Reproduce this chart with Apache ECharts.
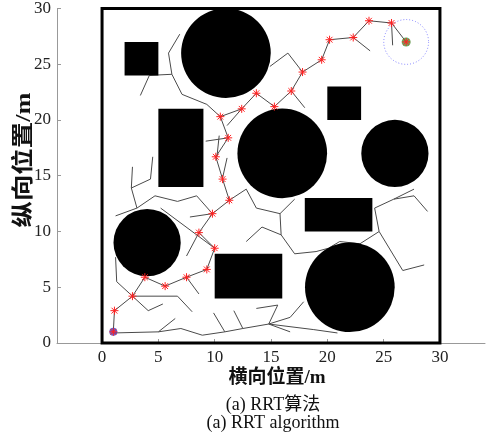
<!DOCTYPE html>
<html><head><meta charset="utf-8">
<script src="https://cdn.jsdelivr.net/npm/echarts@6/dist/echarts.min.js"></script>
<style>html,body{margin:0;padding:0;background:#fff}#c{width:494px;height:434px}</style>
</head><body><div id="c"></div>
<script>
const xTicks = [0, 5, 10, 15, 20, 25, 30];
const yTicks = [0, 5, 10, 15, 20, 25, 30];
const circles = [[11, 26, 4], [16, 17, 4], [26, 17, 3], [4, 9, 3], [22, 5, 4]];
const rects = [[2, 24, 5, 27], [5, 14, 9, 21], [20, 20, 23, 23], [18, 10, 24, 13], [10, 4, 16, 8]];
const boundary = [[0, 0, 30, 30]];
const startPoint = [1, 1];
const goalPoint = [27, 27];
const goalRadius = 2;
const pathPoints = [[1,1],[1.1,2.9],[2.7,4.2],[3.8,5.9],[5.6,5.1],[7.5,5.9],[9.3,6.6],[10,8.5],[8.6,9.9],[9.8,11.6],[11.3,12.8],[10.7,14.7],[10.1,16.7],[11.2,18.4],[10.5,20.3],[12.4,21],[13.7,22.4],[15.3,21.2],[16.8,22.6],[17.8,24.3],[19.5,25.4],[20.2,27.2],[22.3,27.4],[23.7,28.9],[25.7,28.7],[27,27]];
const treeEdges = [
  [[6.9,27.7],[5.9,26.0],[6.2,24.1],[7.1,22.3],[9.3,21.4],[10.5,20.3]],
  [[6.2,24.1],[4.2,24.0],[3.4,22.2]],
  [[9.2,18.1],[11.2,18.4]],
  [[10.4,18.6],[10.2,16.7]],
  [[11.1,16.6],[10.7,14.8]],
  [[12.4,21.0],[11.1,19.5]],
  [[17.8,24.3],[16.5,26.0],[14.9,24.8]],
  [[16.8,22.6],[18.0,21.1]],
  [[22.3,27.4],[23.8,26.2]],
  [[25.7,28.7],[25.8,26.7]],
  [[2.7,15.8],[2.6,13.9],[3.1,12.1],[1.2,11.4]],
  [[4.5,16.7],[4.3,14.7],[2.6,13.9]],
  [[3.1,12.1],[4.7,13.2],[6.7,12.7],[8.4,13.2],[9.8,11.6]],
  [[5.2,12.1],[10.0,8.5]],
  [[7.5,7.8],[8.6,9.9]],
  [[7.8,11.3],[9.8,11.6]],
  [[1.2,7.7],[1.3,5.5],[2.7,4.2]],
  [[2.7,4.2],[6.7,4.2],[8.0,2.8]],
  [[2.7,4.2],[4.1,2.9],[5.4,3.5]],
  [[7.5,5.9],[8.6,4.4]],
  [[1.0,0.9],[5.0,1.0],[7.0,1.3],[8.9,0.7],[10.9,1.0],[12.5,1.3],[14.8,1.7],[18.8,1.2],[20.9,0.9]],
  [[5.0,1.0],[6.5,2.2]],
  [[9.9,2.7],[10.9,1.0]],
  [[11.7,2.9],[12.5,1.3]],
  [[13.7,3.1],[15.6,3.4],[14.8,1.7]],
  [[14.8,1.7],[16.7,2.3],[17.9,3.7]],
  [[14.8,1.7],[16.7,1.0]],
  [[11.3,12.8],[12.8,13.8],[13.7,12.1],[15.8,11.6],[17.1,12.9]],
  [[15.8,11.6],[15.9,9.7],[17.1,8.0],[19.0,8.2],[20.1,8.5],[21.1,9.1],[22.9,8.9],[24.6,10.0]],
  [[15.9,9.7],[14.2,10.4],[12.8,9.1]],
  [[24.6,10.0],[24.2,12.1],[25.9,12.9],[27.7,13.8]],
  [[25.9,12.9],[27.7,13.2],[28.9,11.8]],
  [[24.6,10.0],[26.7,6.5],[28.6,7.0]]
];

const chart = echarts.init(document.getElementById('c'), null, {renderer: 'canvas'});
const serif = '"Liberation Serif","Noto Sans CJK SC"';
const series = [];
treeEdges.forEach(function (poly) {
  series.push({type: 'line', data: poly, symbol: 'none', silent: true, z: 1,
    lineStyle: {color: '#4a4a4a', width: 1}, animation: false});
});
series.push({type: 'line', data: pathPoints, symbol: 'none', silent: true, z: 2,
  lineStyle: {color: '#4a4a4a', width: 1}, animation: false});
series.push({type: 'custom', data: circles, z: 3, silent: true, animation: false,
  renderItem: function (params, api) {
    const c = api.coord([api.value(0), api.value(1)]);
    const s = api.size([api.value(2), api.value(2)]);
    return {type: 'circle', shape: {cx: c[0], cy: c[1], r: (s[0] + s[1]) / 2}, style: {fill: '#000'}};
  }});
series.push({type: 'custom', data: rects, z: 3, silent: true, animation: false,
  renderItem: function (params, api) {
    const p1 = api.coord([api.value(0), api.value(3)]);
    const p2 = api.coord([api.value(2), api.value(1)]);
    return {type: 'rect', shape: {x: p1[0], y: p1[1], width: p2[0] - p1[0], height: p2[1] - p1[1]}, style: {fill: '#000'}};
  }});
series.push({type: 'custom', data: boundary, z: 4, silent: true, animation: false,
  renderItem: function (params, api) {
    const p1 = api.coord([api.value(0), api.value(3)]);
    const p2 = api.coord([api.value(2), api.value(1)]);
    return {type: 'rect', shape: {x: p1[0], y: p1[1], width: p2[0] - p1[0], height: p2[1] - p1[1]}, style: {fill: 'none', stroke: '#000', lineWidth: 3}};
  }});
series.push({type: 'custom', data: [[goalPoint[0], goalPoint[1], goalRadius]], z: 5, silent: true, animation: false,
  renderItem: function (params, api) {
    const c = api.coord([api.value(0), api.value(1)]);
    const s = api.size([api.value(2), api.value(2)]);
    return {type: 'circle', shape: {cx: c[0], cy: c[1], r: (s[0] + s[1]) / 2}, style: {fill: 'none', stroke: '#7f7fff', lineWidth: 1, lineDash: [1, 2]}};
  }});
series.push({type: 'scatter', data: [startPoint], symbol: 'circle', symbolSize: 8, z: 6, silent: true, animation: false,
  itemStyle: {color: '#3b3bc4'}});
series.push({type: 'scatter', data: [goalPoint], symbol: 'circle', symbolSize: 9, z: 6, silent: true, animation: false,
  itemStyle: {color: '#3d9a3d'}});
series.push({type: 'custom', data: pathPoints, z: 7, silent: true, animation: false,
  renderItem: function (params, api) {
    const c = api.coord([api.value(0), api.value(1)]);
    const r = 4, d = 2.9;
    const st = {stroke: '#ff2020', lineWidth: 1};
    return {type: 'group', children: [
      {type: 'line', shape: {x1: c[0] - r, y1: c[1], x2: c[0] + r, y2: c[1]}, style: st},
      {type: 'line', shape: {x1: c[0], y1: c[1] - r, x2: c[0], y2: c[1] + r}, style: st},
      {type: 'line', shape: {x1: c[0] - d, y1: c[1] - d, x2: c[0] + d, y2: c[1] + d}, style: st},
      {type: 'line', shape: {x1: c[0] - d, y1: c[1] + d, x2: c[0] + d, y2: c[1] - d}, style: st}
    ]};
  }});

chart.setOption({
  animation: false,
  grid: {left: 57, right: 9, top: 7, bottom: 91, containLabel: false},
  xAxis: {type: 'value', min: -4, max: 34,
    axisLine: {show: true, onZero: false, lineStyle: {color: '#999', width: 1}},
    axisTick: {show: true, inside: true, length: 4, customValues: xTicks, lineStyle: {color: '#999'}},
    axisLabel: {customValues: xTicks, color: '#222', fontFamily: serif, fontSize: 17, margin: 6},
    splitLine: {show: false}},
  yAxis: {type: 'value', min: 0, max: 30, interval: 5,
    axisLine: {show: true, onZero: false, lineStyle: {color: '#999', width: 1}},
    axisTick: {show: true, inside: true, length: 4, lineStyle: {color: '#999'}},
    axisLabel: {color: '#222', fontFamily: serif, fontSize: 17, margin: 6},
    splitLine: {show: false}},
  graphic: [
    {type: 'text', x: 277, y: 378, style: {text: '横向位置/m', font: 'bold 19px ' + serif, fill: '#111',
      textAlign: 'center', textVerticalAlign: 'middle', align: 'center', verticalAlign: 'middle'}},
    {type: 'text', x: 24, y: 160, rotation: Math.PI / 2, scaleX: 1.2, style: {text: '纵向位置/m', font: 'bold 22px ' + serif, fill: '#111',
      textAlign: 'center', textVerticalAlign: 'middle', align: 'center', verticalAlign: 'middle'}},
    {type: 'text', x: 273, y: 405, style: {text: '(a) RRT算法', font: '18px ' + serif, fill: '#111',
      textAlign: 'center', textVerticalAlign: 'middle', align: 'center', verticalAlign: 'middle'}},
    {type: 'text', x: 273, y: 423, style: {text: '(a) RRT algorithm', font: '18px ' + serif, fill: '#111',
      textAlign: 'center', textVerticalAlign: 'middle', align: 'center', verticalAlign: 'middle'}}
  ],
  series: series
});
</script></body></html>
